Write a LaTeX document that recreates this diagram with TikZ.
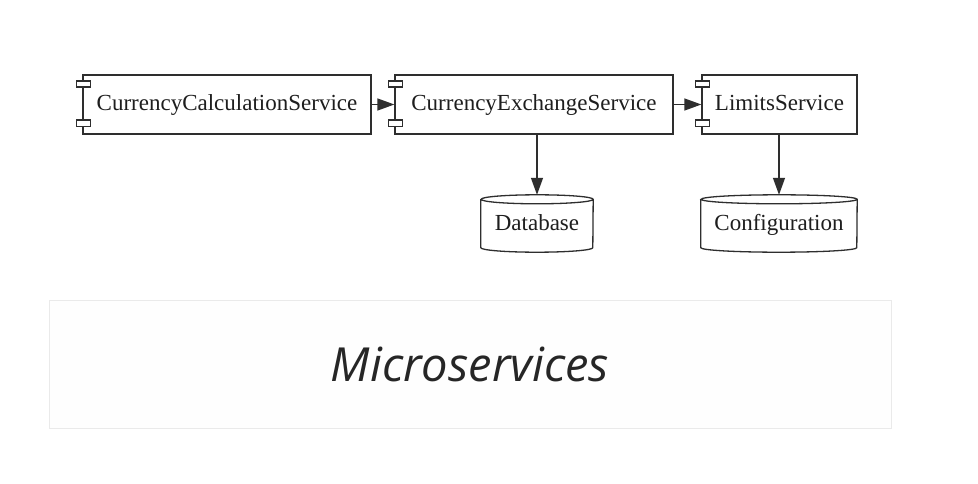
\documentclass[tikz,border=0pt]{standalone}
\usepackage{fontspec}
\setmainfont{Liberation Serif}
\newfontfamily\titlefont{Open Sans}
\usetikzlibrary{arrows.meta,calc}
\definecolor{ink}{HTML}{1E1E1E}
\definecolor{lineink}{HTML}{2E2E2E}
\definecolor{panelborder}{HTML}{EAEAEA}
\definecolor{panelfill}{HTML}{FEFEFE}
\definecolor{titleink}{HTML}{262626}
\tikzset{
  txt/.style={text=ink, font=\fontsize{23}{25}\selectfont, text height=17pt, text depth=4pt},
  comp/.style={draw=lineink, line width=1.3pt, fill=white, rectangle, inner sep=0pt,
    minimum height=59pt, txt},
  port/.style={draw=lineink, line width=1.1pt, fill=white},
  store/.style={rectangle, inner sep=0pt, minimum width=112pt, minimum height=57pt, txt},
  cyl/.style={draw=lineink, line width=1.3pt, fill=white},
  edge/.style={draw=lineink, line width=1.3pt, -{Triangle[length=17pt,width=12pt]}},
}
\newcommand{\ports}[1]{%
  \draw[port] ($(#1.west)+(-6pt,17.5pt)$) rectangle ($(#1.west)+(8pt,23.5pt)$);
  \draw[port] ($(#1.west)+(-6pt,-15.5pt)$) rectangle ($(#1.west)+(8pt,-22pt)$);
}
\newcommand{\cylout}[1]{%
  \path[cyl] ([yshift=-4.5pt]#1.north west) -- ([yshift=4.5pt]#1.south west)
    arc[start angle=180,end angle=360,x radius=0.5*\cylw,y radius=4.5pt]
    -- ([yshift=-4.5pt]#1.north east)
    arc[start angle=0,end angle=360,x radius=0.5*\cylw,y radius=4.5pt];
}
\begin{document}
\begin{tikzpicture}[x=1pt,y=-1pt]
\useasboundingbox (0,0) rectangle (978,484);
\fill[white] (0,0) rectangle (978,484);
% panel
\draw[draw=panelborder, fill=panelfill, line width=1pt] (49,300) rectangle (891,428);
\node (title) at (470,364) [text=titleink, font=\titlefont\itshape\fontsize{47}{50}\selectfont] {Microservices};
% components
\node (calc) [comp, minimum width=288pt] at (227,104.5) {CurrencyCalculationService};
\node (exch) [comp, minimum width=278pt] at (534,104.5) {CurrencyExchangeService};
\node (lim) [comp, minimum width=155pt] at (779.5,104.5) {LimitsService};
\ports{calc}
\ports{exch}
\ports{lim}
% stores
\node (db) [store, minimum width=112pt] at (537,223.5) {};
\def\cylw{112pt}
\cylout{db}
\node (dbtxt) [store] at (db.center) {Database};
\node (cfg) [store, minimum width=156pt] at (779,223.5) {};
\def\cylw{156pt}
\cylout{cfg}
\node (cfgtxt) [store, minimum width=156pt] at (cfg.center) {Configuration};
% connectors
\draw[edge] (calc.east) -- (exch.west);
\draw[edge] (exch.east) -- (lim.west);
\draw[edge] (exch.south -| db.north) -- (db.north);
\draw[edge] (lim.south -| cfg.north) -- (cfg.north);
\end{tikzpicture}
\end{document}
